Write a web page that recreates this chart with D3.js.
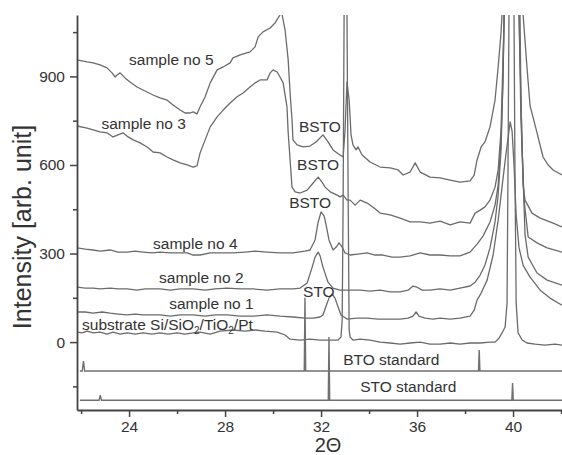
<!DOCTYPE html>
<html>
<head>
<meta charset="utf-8">
<script src="https://cdn.jsdelivr.net/npm/d3@7"></script>
<style>
  html, body { margin: 0; padding: 0; background: #fff; }
  svg { display: block; }
  text { font-family: "Liberation Sans", Arial, sans-serif; fill: #333; }
</style>
</head>
<body>
<svg id="chart" width="562" height="455"></svg>
<script>
// ---------- data (2θ, intensity) ----------
const sample5 = [[21.83,956],[22.25,949],[22.5,946],[22.79,939],[23.08,929],[23.29,912],[23.42,898],[23.5,905],[23.63,912],[23.83,895],[24.04,881],[24.33,864],[24.58,854],[25.0,837],[25.29,827],[25.58,820],[25.83,803],[26.13,786],[26.33,776],[26.54,776],[26.67,780],[26.83,773],[26.96,797],[27.17,831],[27.38,878],[27.67,922],[27.92,932],[28.21,946],[28.33,963],[28.63,973],[29.04,983],[29.25,1000],[29.38,1034],[29.58,1051],[29.88,1064],[30.08,1081],[30.29,1108],[30.33,1200],[30.38,1108],[30.5,1058],[30.63,956],[30.71,844],[30.79,753],[30.83,685],[31.0,668],[31.25,661],[31.54,664],[31.79,678],[32.08,702],[32.29,678],[32.5,651],[32.79,634],[32.92,627],[33.0,719],[33.08,881],[33.17,820],[33.25,702],[33.33,668],[33.46,651],[33.54,661],[33.71,634],[34.04,610],[34.46,593],[34.88,590],[35.21,583],[35.42,566],[35.71,576],[35.92,607],[36.13,576],[36.54,559],[36.96,556],[37.38,549],[37.79,542],[38.21,546],[38.38,566],[38.5,617],[38.67,661],[38.83,678],[39.04,729],[39.25,820],[39.38,932],[39.5,1048],[39.54,1108],[40.0,3000],[40.42,1108],[40.58,932],[40.71,800],[41.0,709],[41.25,627],[41.46,600],[41.67,583],[42.04,566]];

const sample3 = [[21.83,732],[22.25,725],[22.5,719],[22.79,712],[23.08,709],[23.33,695],[23.54,702],[23.75,709],[23.96,695],[24.17,685],[24.46,675],[24.75,661],[25.0,644],[25.29,641],[25.58,627],[25.83,617],[26.13,607],[26.42,600],[26.67,593],[26.83,597],[26.96,641],[27.17,685],[27.38,729],[27.67,763],[27.92,786],[28.21,810],[28.5,831],[28.75,844],[29.04,864],[29.25,878],[29.46,888],[29.75,888],[29.88,912],[30.0,922],[30.17,915],[30.29,898],[30.42,878],[30.58,797],[30.63,709],[30.71,617],[30.79,525],[30.92,509],[31.13,505],[31.42,515],[31.67,539],[31.88,559],[32.04,542],[32.17,525],[32.38,509],[32.67,498],[32.79,492],[32.92,498],[33.08,481],[33.21,481],[33.42,464],[33.63,481],[33.92,471],[34.21,454],[34.46,437],[34.88,431],[35.29,420],[35.71,407],[36.13,407],[36.54,403],[36.96,410],[37.38,397],[37.79,407],[38.21,403],[38.42,437],[38.63,447],[38.83,458],[39.04,481],[39.25,525],[39.38,583],[39.5,719],[39.58,956],[39.63,1108],[40.0,3000],[40.29,1108],[40.33,820],[40.38,651],[40.42,532],[40.5,481],[40.79,437],[41.13,420],[41.67,403],[42.04,390]];

const sample4 = [[21.83,319],[22.17,315],[22.5,312],[22.79,308],[23.21,312],[23.54,305],[23.92,305],[24.25,308],[24.58,305],[24.96,302],[25.29,305],[25.71,302],[26.0,302],[26.42,302],[26.67,295],[26.96,295],[27.38,302],[27.79,302],[28.33,302],[28.83,305],[29.25,308],[29.75,305],[30.29,302],[30.83,302],[31.33,308],[31.54,312],[31.75,346],[31.88,407],[32.0,441],[32.13,427],[32.21,397],[32.33,346],[32.5,312],[32.63,322],[32.75,336],[32.88,322],[33.0,302],[33.21,295],[33.54,298],[33.92,302],[34.25,295],[34.58,295],[34.96,288],[35.29,288],[35.71,292],[36.13,302],[36.54,295],[36.96,295],[37.38,292],[37.79,292],[38.21,305],[38.5,332],[38.75,359],[39.04,407],[39.25,464],[39.38,532],[39.5,685],[39.58,888],[39.63,1108],[40.0,3000],[40.25,1108],[40.33,753],[40.46,481],[40.63,356],[41.0,336],[41.42,319],[42.04,305]];

const sample2 = [[21.83,186],[22.17,183],[22.5,183],[22.79,180],[23.21,183],[23.54,180],[23.92,180],[24.33,176],[24.67,180],[25.0,180],[25.29,180],[25.71,176],[26.13,180],[26.67,180],[27.17,176],[27.58,180],[28.08,183],[28.63,180],[29.17,180],[29.75,176],[30.29,180],[30.83,180],[31.13,183],[31.42,200],[31.63,254],[31.75,288],[31.88,305],[31.96,292],[32.08,254],[32.29,203],[32.5,183],[32.79,176],[33.21,176],[33.63,176],[34.04,173],[34.46,176],[34.88,170],[35.29,170],[35.63,176],[35.83,190],[36.0,186],[36.21,176],[36.54,176],[36.96,180],[37.38,176],[37.79,183],[38.21,190],[38.42,203],[38.63,227],[38.83,261],[39.04,319],[39.25,407],[39.38,498],[39.5,651],[39.58,888],[39.63,1108],[40.0,3000],[40.25,1108],[40.38,651],[40.5,363],[40.63,288],[41.0,234],[41.42,210],[42.04,193]];

const sample1 = [[21.83,102],[22.17,102],[22.5,98],[22.88,102],[23.21,98],[23.54,95],[23.92,92],[24.25,95],[24.58,92],[24.96,92],[25.29,92],[25.71,88],[26.13,92],[26.67,92],[27.17,88],[27.58,92],[28.08,92],[28.63,88],[29.17,88],[29.75,92],[30.29,88],[30.83,85],[31.33,81],[31.67,81],[31.96,85],[32.08,92],[32.21,122],[32.33,149],[32.46,163],[32.58,149],[32.71,119],[32.83,92],[33.08,78],[33.5,81],[33.92,81],[34.38,78],[34.88,78],[35.29,78],[35.63,81],[35.83,88],[35.96,102],[36.08,88],[36.33,81],[36.67,78],[36.96,81],[37.38,78],[37.79,81],[38.21,88],[38.38,108],[38.5,142],[38.67,166],[38.92,210],[39.17,295],[39.38,413],[39.54,525],[39.71,640],[39.88,746],[39.96,715],[40.04,600],[40.13,430],[40.25,320],[40.42,260],[40.71,220],[41.13,176],[41.54,149],[42.04,125]];

const substrate = [[21.83,34],[22.04,31],[22.25,37],[22.5,31],[22.79,34],[23.08,27],[23.33,34],[23.63,27],[23.92,31],[24.25,27],[24.58,31],[24.96,27],[25.29,31],[25.63,27],[26.0,31],[26.33,27],[26.67,31],[26.96,34],[27.38,27],[27.79,37],[28.33,41],[28.83,37],[29.25,41],[29.67,37],[30.17,34],[30.5,24],[30.71,10],[31.13,7],[31.54,10],[31.96,7],[32.38,7],[32.71,7],[32.83,17],[32.88,75],[32.92,481],[32.96,1108],[33.0,3000],[33.08,1108],[33.13,481],[33.17,41],[33.21,17],[33.33,7],[33.63,10],[34.04,7],[34.46,0],[34.88,-3],[35.29,-7],[35.71,-3],[36.13,0],[36.54,-7],[36.96,-7],[37.38,-3],[37.79,-7],[38.21,-3],[38.63,-3],[39.04,0],[39.25,0],[39.42,14],[39.54,31],[39.67,51],[39.75,132],[39.79,583],[39.83,1108],[39.95,3000],[40.04,1108],[40.08,583],[40.13,132],[40.21,31],[40.38,7],[40.58,-3],[40.92,-7],[41.33,-10],[41.75,-7],[42.04,-10]];

const btoStandard = [[21.95,-98],[22.05,-98],[22.1,-64],[22.15,-98],[31.3,-98],[31.33,150],[31.36,-98],[38.56,-98],[38.59,-27],[38.62,-98],[42.04,-98]];
const stoStandard = [[21.95,-197],[22.75,-197],[22.8,-180],[22.85,-197],[32.3,-197],[32.33,17],[32.36,-197],[39.95,-197],[39.98,-139],[40.01,-197],[42.04,-197]];

const xMajorTicks = [24, 28, 32, 36, 40];
const xMinorTicks = [22, 26, 30, 34, 38, 42];
const yMajorTicks = [0, 300, 600, 900];
const yMinorTicks = [-150, 150, 450, 750, 1050];

const curveLabels = [
  {text: "sample no 5", t: 24.0, v: 940},
  {text: "sample no 3", t: 22.85, v: 722},
  {text: "sample no 4", t: 25.0, v: 315},
  {text: "sample no 2", t: 25.25, v: 200},
  {text: "sample no 1", t: 25.67, v: 112},
  {text: "BSTO", t: 31.08, v: 712},
  {text: "BSTO", t: 31.0, v: 583},
  {text: "BSTO", t: 30.67, v: 454},
  {text: "STO", t: 31.25, v: 153},
  {text: "BTO standard", t: 32.92, v: -78},
  {text: "STO standard", t: 33.63, v: -170}
];
const substrateLabel = {parts: ["substrate Si/SiO", "2", "/TiO", "2", "/Pt"], t: 22.04, v: 41};

// ---------- chart ----------
const svg = d3.select("#chart");
const x = d3.scaleLinear().domain([21.83, 42.04]).range([77, 562]);
const y = d3.scaleLinear().domain([-230, 1108]).range([410, 15]);

svg.append("defs").append("clipPath").attr("id", "plotclip")
  .append("rect").attr("x", 77).attr("y", 15).attr("width", 485).attr("height", 395);

const line = d3.line().x(d => x(d[0])).y(d => y(d[1]));
const plot = svg.append("g").attr("clip-path", "url(#plotclip)");

[substrate, sample1, sample2, sample4, sample3, sample5].forEach(s => {
  plot.append("path").datum(s).attr("d", line)
    .attr("fill", "none").attr("stroke", "#6b6b6b").attr("stroke-width", 1.3)
    .attr("stroke-linejoin", "round");
});
[btoStandard, stoStandard].forEach(s => {
  plot.append("path").datum(s).attr("d", line)
    .attr("fill", "none").attr("stroke", "#707070").attr("stroke-width", 1.4);
});

// axes
const axisColor = "#444";
const gx = svg.append("g").attr("transform", "translate(0,410)");
gx.call(d3.axisBottom(x).tickValues(xMajorTicks).tickSize(7).tickSizeOuter(0).tickPadding(4).tickFormat(d3.format("d")));
gx.append("g").call(d3.axisBottom(x).tickValues(xMinorTicks).tickSize(4).tickSizeOuter(0).tickFormat(""))
  .select(".domain").remove();
const gy = svg.append("g").attr("transform", "translate(77,0)");
gy.call(d3.axisLeft(y).tickValues(yMajorTicks).tickSize(7).tickSizeOuter(0).tickPadding(5).tickFormat(d3.format("d")));
gy.append("g").call(d3.axisLeft(y).tickValues(yMinorTicks).tickSize(4).tickSizeOuter(0).tickFormat(""))
  .select(".domain").remove();

svg.selectAll(".domain").attr("stroke", axisColor).attr("stroke-width", 1.8);
svg.selectAll(".tick line").attr("stroke", axisColor).attr("stroke-width", 1.5);
svg.selectAll(".tick text").attr("font-size", 15.5).attr("fill", "#333")
  .attr("font-family", "Liberation Sans, Arial, sans-serif");

// axis titles
svg.append("text").attr("x", 328).attr("y", 452).attr("text-anchor", "middle")
  .attr("font-size", 20).text("2Θ");
svg.append("text").attr("transform", "translate(31,227) rotate(-90)")
  .attr("text-anchor", "middle").attr("font-size", 25).text("Intensity [arb. unit]");

// labels
svg.selectAll(".clabel").data(curveLabels).enter().append("text")
  .attr("class", "clabel").attr("x", d => x(d.t)).attr("y", d => y(d.v))
  .attr("font-size", 15.5).text(d => d.text);

const sl = svg.append("text").attr("x", x(substrateLabel.t)).attr("y", y(substrateLabel.v)).attr("font-size", 15.5);
substrateLabel.parts.forEach((p, i) => {
  const sub = i % 2 === 1;
  sl.append("tspan").attr("font-size", sub ? 10 : 15.5)
    .attr("dy", sub ? 4 : (i > 0 ? -4 : 0)).text(p);
});
</script>
</body>
</html>
